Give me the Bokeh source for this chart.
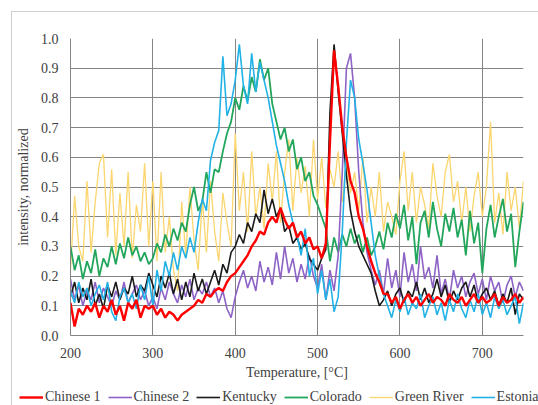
from bokeh.plotting import figure
from bokeh.layouts import column
from bokeh.models import (Legend, LegendItem, FixedTicker, PrintfTickFormatter,
                          Range1d)
from bokeh.embed import file_html
from bokeh.resources import INLINE

temps = list(range(200, 751, 5))

chinese1 = [
    0.11, 0.03, 0.09, 0.07, 0.10, 0.08, 0.11, 0.06, 0.10, 0.08,
    0.12, 0.07, 0.10, 0.05, 0.11, 0.09, 0.12, 0.06, 0.10, 0.09,
    0.10, 0.07, 0.09, 0.06, 0.08, 0.07, 0.05, 0.07, 0.08, 0.09,
    0.10, 0.12, 0.11, 0.14, 0.13, 0.15, 0.16, 0.15, 0.18, 0.20,
    0.21, 0.23, 0.25, 0.27, 0.30, 0.32, 0.35, 0.34, 0.38, 0.40,
    0.38, 0.43, 0.39, 0.36, 0.38, 0.33, 0.35, 0.31, 0.33, 0.29,
    0.30, 0.26, 0.31, 0.65, 0.96, 0.84, 0.70, 0.60, 0.52, 0.48,
    0.40, 0.36, 0.30, 0.25, 0.21, 0.18, 0.14, 0.14, 0.11, 0.13,
    0.09, 0.12, 0.14, 0.11, 0.13, 0.10, 0.12, 0.14, 0.11, 0.13,
    0.12, 0.10, 0.14, 0.12, 0.11, 0.13, 0.10, 0.12, 0.14, 0.11,
    0.13, 0.11, 0.12, 0.14, 0.10, 0.13, 0.11, 0.12, 0.14, 0.11,
    0.13,
]

chinese2 = [
    0.19, 0.12, 0.17, 0.10, 0.15, 0.12, 0.18, 0.11, 0.16, 0.13,
    0.10, 0.15, 0.12, 0.18, 0.11, 0.14, 0.17, 0.12, 0.15, 0.10,
    0.13, 0.09, 0.16, 0.12, 0.18, 0.14, 0.11, 0.17, 0.13, 0.19,
    0.12, 0.16, 0.14, 0.18, 0.13, 0.16, 0.11, 0.15, 0.09, 0.06,
    0.13, 0.18, 0.22, 0.16, 0.20, 0.15, 0.25, 0.18, 0.23, 0.17,
    0.28, 0.19, 0.30, 0.21, 0.26, 0.18, 0.24, 0.19, 0.27, 0.20,
    0.16, 0.24, 0.12, 0.22, 0.15, 0.27, 0.55, 0.90, 0.95, 0.80,
    0.55, 0.38, 0.28, 0.22, 0.17, 0.22, 0.14, 0.26, 0.16, 0.22,
    0.13, 0.28, 0.18, 0.24, 0.15, 0.30, 0.19, 0.23, 0.16, 0.27,
    0.14, 0.19, 0.12, 0.22, 0.16, 0.20, 0.13, 0.18, 0.21, 0.14,
    0.19, 0.12, 0.20, 0.15, 0.18, 0.11, 0.17, 0.20, 0.13, 0.18,
    0.15,
]

kentucky = [
    0.13, 0.18, 0.11, 0.16, 0.12, 0.19, 0.10, 0.14, 0.09, 0.17,
    0.13, 0.18, 0.12, 0.16, 0.14, 0.20, 0.13, 0.17, 0.15, 0.21,
    0.17, 0.13, 0.20, 0.16, 0.21, 0.14, 0.19, 0.12, 0.18, 0.13,
    0.21, 0.15, 0.19, 0.14, 0.18, 0.22, 0.17, 0.24, 0.21, 0.28,
    0.30, 0.34, 0.31, 0.38, 0.35, 0.41, 0.38, 0.49, 0.41, 0.46,
    0.40, 0.43, 0.35, 0.37, 0.31, 0.33, 0.29, 0.31, 0.26, 0.24,
    0.22, 0.26, 0.29, 0.75, 0.98, 0.82, 0.68, 0.54, 0.42, 0.35,
    0.30, 0.27, 0.24, 0.21, 0.15, 0.10, 0.12, 0.15, 0.10, 0.14,
    0.16, 0.11, 0.15, 0.13, 0.18, 0.12, 0.16, 0.11, 0.14, 0.19,
    0.13, 0.17, 0.11, 0.15, 0.12, 0.16, 0.18, 0.13, 0.17, 0.11,
    0.14, 0.16, 0.12, 0.15, 0.10, 0.14, 0.11, 0.16, 0.07, 0.14,
    0.12,
]

colorado = [
    0.30, 0.22, 0.27, 0.19, 0.25, 0.21, 0.29, 0.20, 0.26, 0.23,
    0.30, 0.24, 0.31, 0.26, 0.33, 0.27, 0.30, 0.25, 0.28, 0.24,
    0.26, 0.31, 0.28, 0.34, 0.30, 0.36, 0.32, 0.38, 0.35, 0.44,
    0.50, 0.42, 0.45, 0.55, 0.48, 0.56, 0.55, 0.62, 0.68, 0.72,
    0.80, 0.76, 0.84, 0.79, 0.87, 0.82, 0.93, 0.86, 0.90, 0.78,
    0.72, 0.66, 0.70, 0.62, 0.66, 0.56, 0.60, 0.52, 0.55, 0.47,
    0.44, 0.40, 0.36, 0.25, 0.33, 0.28, 0.34, 0.30, 0.36, 0.31,
    0.34, 0.28, 0.33, 0.27, 0.30, 0.35, 0.29, 0.38, 0.33, 0.41,
    0.36, 0.44, 0.32, 0.40, 0.24, 0.38, 0.42, 0.33, 0.45, 0.36,
    0.30, 0.41, 0.35, 0.43, 0.33, 0.39, 0.27, 0.42, 0.31, 0.38,
    0.21, 0.36, 0.44, 0.33, 0.40, 0.46, 0.35, 0.41, 0.23, 0.35,
    0.45,
]

green_river = [
    0.22, 0.47, 0.30, 0.25, 0.52, 0.28, 0.45, 0.58, 0.61, 0.33,
    0.56, 0.27, 0.48, 0.30, 0.55, 0.26, 0.44, 0.35, 0.58, 0.30,
    0.52, 0.25, 0.55, 0.28, 0.40, 0.22, 0.15, 0.45, 0.27, 0.50,
    0.32, 0.22, 0.46, 0.28, 0.52, 0.35, 0.25, 0.48, 0.38, 0.30,
    0.68, 0.42, 0.55, 0.35, 0.62, 0.40, 0.50, 0.36, 0.58, 0.45,
    0.62, 0.38, 0.55, 0.66, 0.42, 0.60, 0.48, 0.57, 0.40, 0.66,
    0.46, 0.60, 0.43, 0.56, 0.50, 0.62, 0.45, 0.58, 0.48, 0.55,
    0.42, 0.60, 0.38, 0.50, 0.40, 0.55, 0.35, 0.45, 0.40, 0.34,
    0.52, 0.62, 0.42, 0.55, 0.38, 0.50, 0.44, 0.36, 0.58, 0.47,
    0.40, 0.55, 0.61, 0.45, 0.52, 0.38, 0.50, 0.35, 0.47, 0.55,
    0.40, 0.50, 0.72, 0.38, 0.48, 0.34, 0.55, 0.42, 0.50, 0.36,
    0.52,
]

estonia = [
    0.15, 0.11, 0.18, 0.13, 0.16, 0.10, 0.14, 0.17, 0.12, 0.18,
    0.08, 0.05, 0.13, 0.16, 0.11, 0.14, 0.09, 0.17, 0.12, 0.20,
    0.10, 0.22, 0.15, 0.25, 0.20, 0.28, 0.22, 0.30, 0.26, 0.33,
    0.28, 0.38, 0.46, 0.42, 0.59, 0.65, 0.69, 0.94, 0.74, 0.78,
    0.86, 0.98, 0.84, 0.78, 0.95, 0.82, 0.92, 0.86, 0.80, 0.72,
    0.64, 0.58, 0.52, 0.44, 0.38, 0.34, 0.27, 0.36, 0.20, 0.26,
    0.14, 0.22, 0.12, 0.19, 0.08, 0.13, 0.35, 0.65, 0.86, 0.80,
    0.66, 0.58, 0.49, 0.38, 0.27, 0.20, 0.14, 0.10, 0.06, 0.12,
    0.08, 0.13, 0.07, 0.11, 0.09, 0.14, 0.06, 0.10, 0.13, 0.07,
    0.11, 0.05, 0.12, 0.08, 0.14, 0.09, 0.06, 0.12, 0.08, 0.14,
    0.07, 0.11, 0.06, 0.13, 0.09, 0.12, 0.07, 0.10, 0.13, 0.04,
    0.11,
]

series_names = ["Chinese 1", "Chinese 2", "Kentucky", "Colorado",
                "Green River", "Estonia"]
x_ticks = [200, 300, 400, 500, 600, 700]
y_ticks = [0.0, 0.1, 0.2, 0.3, 0.4, 0.5, 0.6, 0.7, 0.8, 0.9, 1.0]

FONT = "Liberation Serif"
TXT = "#404040"
GRID = "#858585"

styles = {
    "Chinese 1": dict(line_color="#FF0000", line_width=2.4),
    "Chinese 2": dict(line_color="#8E63C6", line_width=1.6),
    "Kentucky": dict(line_color="#1A1A1A", line_width=1.6),
    "Colorado": dict(line_color="#22A65C", line_width=1.8),
    "Green River": dict(line_color="#FBD56E", line_width=1.3),
    "Estonia": dict(line_color="#22B2E6", line_width=1.6),
}
series = {
    "Chinese 1": chinese1, "Chinese 2": chinese2, "Kentucky": kentucky,
    "Colorado": colorado, "Green River": green_river, "Estonia": estonia,
}
draw_order = ["Green River", "Colorado", "Chinese 2", "Kentucky",
              "Estonia", "Chinese 1"]

# ---- main chart ----
p = figure(width=526, height=372, output_backend="svg", toolbar_location=None,
           x_range=Range1d(200, 750), y_range=Range1d(0, 1),
           min_border_left=58, min_border_right=15, min_border_top=26,
           min_border_bottom=49)
p.outline_line_color = None
p.background_fill_color = "white"
p.border_fill_color = "white"

for ax in (p.xaxis[0], p.yaxis[0]):
    ax.axis_line_color = GRID
    ax.major_tick_line_color = None
    ax.minor_tick_line_color = None
    ax.major_tick_in = 0
    ax.major_tick_out = 0
    ax.major_label_text_font = FONT
    ax.major_label_text_font_size = "14px"
    ax.major_label_text_color = TXT
    ax.axis_label_text_font = FONT
    ax.axis_label_text_font_size = "14px"
    ax.axis_label_text_font_style = "normal"
    ax.axis_label_text_color = TXT

p.xaxis.ticker = FixedTicker(ticks=x_ticks)
p.yaxis.ticker = FixedTicker(ticks=y_ticks)
p.yaxis.formatter = PrintfTickFormatter(format="%.1f")
p.xaxis.axis_label = "Temperature, [°C]"
p.yaxis.axis_label = "intensity, normalized"
p.xaxis.major_label_standoff = 12
p.yaxis.major_label_standoff = 12
p.xaxis.axis_label_standoff = 4
p.yaxis.axis_label_standoff = 7

p.xgrid.ticker = FixedTicker(ticks=x_ticks)
p.ygrid.ticker = FixedTicker(ticks=y_ticks)
p.xgrid.grid_line_color = GRID
p.ygrid.grid_line_color = GRID

for name in draw_order:
    p.line(temps, series[name], **styles[name])

# ---- legend strip (its own small plot) ----
lf = figure(width=526, height=21, output_backend="svg", toolbar_location=None,
            x_axis_type=None, y_axis_type=None, min_border=0,
            x_range=Range1d(0, 1), y_range=Range1d(0, 1))
lf.outline_line_color = None
lf.xgrid.visible = False
lf.ygrid.visible = False
items = []
for name in series_names:
    # off-range placeholder line: only its style is shown, in the legend
    r = lf.line([-2, -1], [-2, -1], **styles[name])
    items.append(LegendItem(label=name, renderers=[r]))

legend = Legend(items=items, location=(7, 0), orientation="horizontal",
                padding=0, margin=0, spacing=7, glyph_width=24,
                glyph_height=14, label_height=14, label_standoff=2,
                border_line_color=None, background_fill_alpha=0,
                label_text_font=FONT, label_text_font_size="14px",
                label_text_color=TXT)
lf.add_layout(legend)

layout = column(p, column(lf, spacing=0), margin=(11, 0, 0, 11), spacing=0,
                styles={"border-left": "1px solid #cfcfcf",
                        "border-top": "1px solid #cfcfcf"})

open("out.html", "w").write(file_html(layout, INLINE))
